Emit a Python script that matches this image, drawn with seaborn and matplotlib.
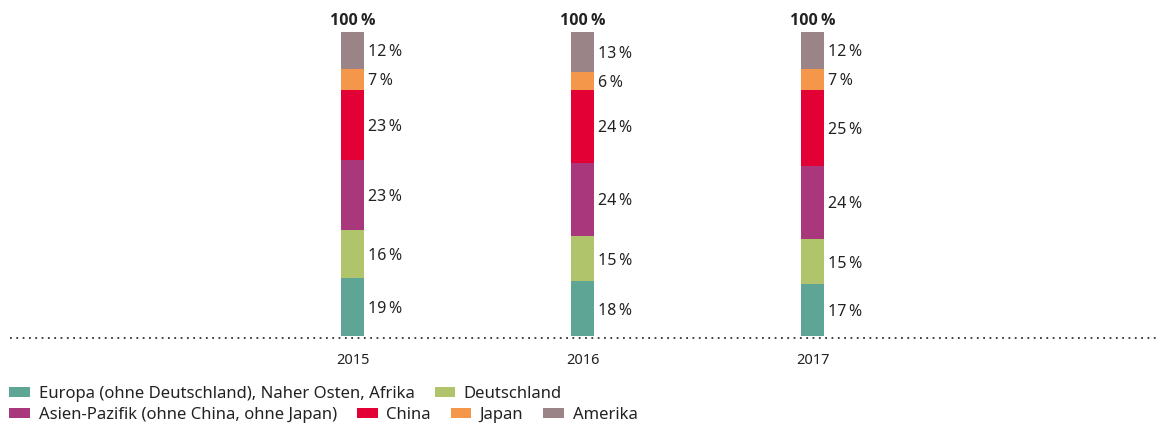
import matplotlib
matplotlib.use("Agg")
import matplotlib.pyplot as plt
from matplotlib.patches import Patch
import seaborn as sns
import numpy as np

# ── Data ──────────────────────────────────────────────────────────────────────
years = ["2015", "2016", "2017"]
regions = [
    "Europa (ohne Deutschland), Naher Osten, Afrika",
    "Deutschland",
    "Asien-Pazifik (ohne China, ohne Japan)",
    "China",
    "Japan",
    "Amerika",
]
europa = [19, 18, 17]
deutschland = [16, 15, 15]
asien = [23, 24, 24]
china = [23, 24, 25]
japan = [7, 6, 7]
amerika = [12, 13, 12]
totals = [100, 100, 100]

colors = ["#5fa596", "#b0c46b", "#a8387b", "#e30035", "#f4974b", "#9a8487"]

# ── Style ─────────────────────────────────────────────────────────────────────
sns.set_style("white")
plt.rcParams["font.family"] = ["Noto Sans", "DejaVu Sans"]
TXT = "#222222"

fig = plt.figure(figsize=(11.65, 4.23), dpi=100)
ax = fig.add_axes([0.0086, 0.199, 0.9871, 0.801])

series = [europa, deutschland, asien, china, japan, amerika]
bottom = np.zeros(len(years))
for vals, col in zip(series, colors):
    sns.barplot(x=years, y=vals, bottom=bottom, color=col, width=0.1,
                errorbar=None, linewidth=0, saturation=1, ax=ax)
    for i, v in enumerate(vals):
        ax.text(i + 0.068, bottom[i] + v / 2, f"{v}\u2009%", ha="left",
                va="center_baseline", fontsize=11.5, color=TXT)
    bottom += np.array(vals)

for i, t in enumerate(totals):
    ax.text(i, t + 1.2, f"{t}\u2009%", ha="center", va="bottom",
            fontsize=11.5, fontweight="bold", color=TXT,
            family=["Open Sans", "Lato", "DejaVu Sans"])

ax.axhline(-0.6, color="#333333", linewidth=1.3, linestyle=(0, (1, 2.5)))
ax.set_xlim(-1.49, 3.51)
ax.set_ylim(-0.9, 110.6)
sns.despine(ax=ax, left=True, bottom=True)
ax.set_yticks([])
ax.set_xlabel("")
ax.set_ylabel("")
ax.tick_params(axis="x", length=0, pad=10, labelsize=10.5, labelcolor=TXT)

# ── Legend (two rows) ─────────────────────────────────────────────────────────
handles = [Patch(facecolor=c, edgecolor="none", label=r) for c, r in zip(colors, regions)]
common = dict(frameon=False, borderpad=0, handlelength=1.25, handleheight=0.6,
              handletextpad=0.5, columnspacing=1.2, fontsize=12,
              labelcolor=TXT)
fig.legend(handles=handles[:2], ncol=2, loc="center left",
           bbox_to_anchor=(0.001, 0.069), **common)
fig.legend(handles=handles[2:], ncol=4, loc="center left",
           bbox_to_anchor=(0.001, 0.019), **common)

fig.savefig("out.png", dpi=100)
